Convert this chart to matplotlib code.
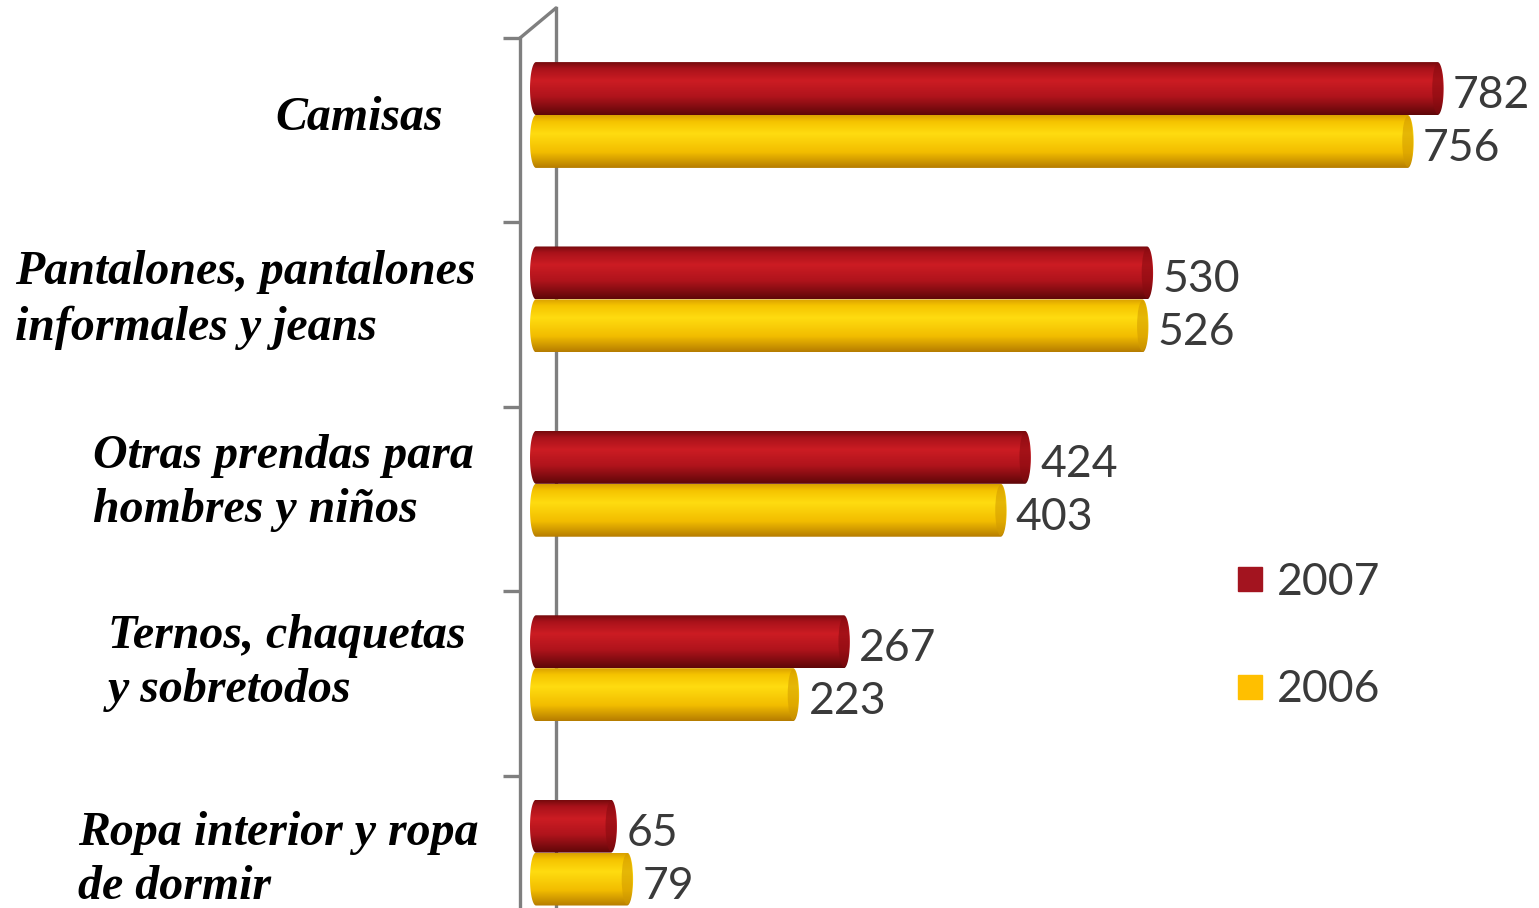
import numpy as np
import matplotlib
matplotlib.use("Agg")
import matplotlib.pyplot as plt
from matplotlib.patches import Polygon, Ellipse
from matplotlib.lines import Line2D
from matplotlib.colors import LinearSegmentedColormap

# ── Data ──────────────────────────────────────────────────────────────────
categories = [
    "Camisas",
    "Pantalones, pantalones\ninformales y jeans",
    "Otras prendas para\nhombres y niños",
    "Ternos, chaquetas\ny sobretodos",
    "Ropa interior y ropa\nde dormir",
]
values_2007 = [782, 530, 424, 267, 65]
values_2006 = [756, 526, 403, 223, 79]
series_names = ["2007", "2006"]

# ── Style ─────────────────────────────────────────────────────────────────
W, H = 1539, 908
PX_PER_UNIT = 1.153      # horizontal scale
ZERO_PX = 536            # value 0 position
GROUP_PX = 184.4         # spacing of groups
GROUP0_PX = 115          # centre of first group
AX_LEFT_PX = 520
BAR_H = 0.287
CAP_PX = 6

red_cmap = LinearSegmentedColormap.from_list(
    "red", [(0.0, "#750a0d"), (0.12, "#a8121a"), (0.35, "#cc1c23"),
            (0.65, "#b0141c"), (1.0, "#5e0608")])
yel_cmap = LinearSegmentedColormap.from_list(
    "yel", [(0.0, "#d9a000"), (0.12, "#f5c300"), (0.35, "#ffdc10"),
            (0.7, "#f2bd00"), (1.0, "#b57c00")])
cap_colors = ["#860a0f", "#d19a00"]
legend_colors = ["#a3141f", "#ffbf00"]
wall_color = "#7f7f7f"
text_color = "#3a3a3a"
num_font = ["Liberation Sans Narrow", "Lato"]

label_x_px = [275, 15, 93, 108, 78]
label_y_px = [118, 300, 483, 663, 860]

fig = plt.figure(figsize=(W / 100, H / 100), dpi=100, facecolor="white")
ax = fig.add_axes([AX_LEFT_PX / W, 0, 1 - AX_LEFT_PX / W, 1])

xmin = (AX_LEFT_PX - ZERO_PX) / PX_PER_UNIT
xmax = (W - ZERO_PX) / PX_PER_UNIT
ytop = (0 - GROUP0_PX) / GROUP_PX
ybot = (H - GROUP0_PX) / GROUP_PX

y = np.arange(len(categories))
bars_07 = ax.barh(y - BAR_H / 2, values_2007, height=BAR_H, color="none", zorder=3)
bars_06 = ax.barh(y + BAR_H / 2, values_2006, height=BAR_H, color="none", zorder=3)

rx = CAP_PX / PX_PER_UNIT
grad = np.linspace(0, 1, 256).reshape(-1, 1)


def cylinder(patch, cmap, cap_color, z):
    # paint a bar as a shaded cylinder with rounded ends
    x0, y0 = patch.get_x(), patch.get_y()
    w, h = patch.get_width(), patch.get_height()
    yc = y0 + h / 2
    t_left = np.linspace(np.pi / 2, 3 * np.pi / 2, 40)
    t_right = np.linspace(-np.pi / 2, np.pi / 2, 40)
    pts = np.vstack([
        np.column_stack([x0 + rx * np.cos(t_left), yc - h / 2 * np.sin(t_left)]),
        np.column_stack([x0 + w + rx * np.cos(t_right), yc - h / 2 * np.sin(t_right)]),
    ])
    clip = Polygon(pts, closed=True, facecolor="none", edgecolor="none",
                   transform=ax.transData)
    ax.add_patch(clip)
    im = ax.imshow(grad, cmap=cmap, aspect="auto", zorder=z,
                   extent=[x0 - rx, x0 + w + rx, y0 + h, y0],
                   interpolation="bilinear")
    im.set_clip_path(clip)
    cap = Ellipse((x0 + w, yc), 2 * rx * 0.9, h * 0.96, facecolor=cap_color,
                  edgecolor="none", alpha=0.55, zorder=z + 0.1)
    ax.add_patch(cap)


for p in bars_07:
    cylinder(p, red_cmap, cap_colors[0], 4)
for p in bars_06:
    cylinder(p, yel_cmap, cap_colors[1], 5)

# value labels
for bars, vals in ((bars_07, values_2007), (bars_06, values_2006)):
    for p, v in zip(bars, vals):
        ax.annotate(f"{v}", (p.get_width(), p.get_y() + p.get_height() / 2),
                    xytext=(11, -5), textcoords="offset points",
                    ha="left", va="center", fontsize=32, color=text_color,
                    family=num_font, zorder=6)

# 3D wall: front spine with ticks, back line, diagonal joint
back_x = (556 - ZERO_PX) / PX_PER_UNIT
back_top = (8 - GROUP0_PX) / GROUP_PX
tick_top = (38 - GROUP0_PX) / GROUP_PX
ax.plot([xmin, back_x], [tick_top, back_top], color=wall_color, lw=2.4,
        clip_on=False, zorder=1, solid_capstyle="round")
ax.plot([back_x, back_x], [back_top, ybot], color=wall_color, lw=2.4,
        clip_on=False, zorder=1)

ax.set_xlim(xmin, xmax)
ax.set_ylim(ybot, ytop)
for s in ("top", "right", "bottom"):
    ax.spines[s].set_visible(False)
ax.spines["left"].set_color(wall_color)
ax.spines["left"].set_linewidth(2.4)
ax.spines["left"].set_bounds(tick_top, ybot)
ax.set_yticks(y + tick_top)
ax.set_yticklabels([])
ax.tick_params(axis="y", length=12, width=2.4, color=wall_color)
ax.set_xticks([])
ax.set_facecolor("none")

# category labels
for lab, lx, ly in zip(categories, label_x_px, label_y_px):
    fig.text(lx / W, 1 - ly / H, lab, ha="left", va="center",
             family="Liberation Serif", fontsize=34.5, fontweight="bold",
             fontstyle="italic", color="black", linespacing=1.32)

# legend
handles = [Line2D([0], [0], marker="s", linestyle="none", markersize=17,
                  markerfacecolor=c, markeredgecolor=c) for c in legend_colors]
fig.legend(handles, series_names, loc="center left",
           bbox_to_anchor=(1188 / W, 1 - 636 / H), frameon=False,
           prop={"family": num_font, "size": 32},
           labelcolor=text_color, handletextpad=0.1, labelspacing=1.5,
           handlelength=1.0)

fig.savefig("out.png", dpi=100, facecolor="white")
